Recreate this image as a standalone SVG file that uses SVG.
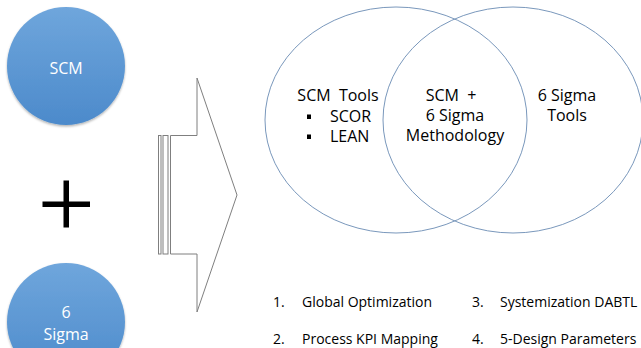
<svg xmlns="http://www.w3.org/2000/svg" width="641" height="348" viewBox="0 0 641 348">
<defs>
<linearGradient id="blue" x1="0" y1="0" x2="0" y2="1">
<stop offset="0" stop-color="#6fa6dc"/>
<stop offset="1" stop-color="#4c8acb"/>
</linearGradient>
<filter id="sh" x="-20%" y="-20%" width="140%" height="140%">
<feDropShadow dx="0" dy="1.5" stdDeviation="1.2" flood-color="#000" flood-opacity="0.3"/>
</filter>
</defs>
<style>
.node{fill:url(#blue);filter:url(#sh)}
.wt{font-family:"Open Sans","Noto Sans",sans-serif;font-size:16px;fill:#ffffff;text-anchor:middle}
.venn{fill:none;stroke:#7a98bc;stroke-width:1}
.vt{font-family:"Open Sans","Noto Sans",sans-serif;font-size:16px;fill:#000;white-space:pre}
.lt{font-family:"Open Sans","Noto Sans",sans-serif;font-size:14px;fill:#000}
.arr{fill:#fff;stroke:#7f7f7f;stroke-width:1}
</style>
<rect width="641" height="348" fill="#fff"/>
<g id="scm">
<circle class="node" cx="66" cy="66" r="59"/>
<text class="wt" x="66" y="74">SCM</text>
</g>
<g id="plus">
<rect x="42.5" y="201.5" width="47.5" height="5.5" fill="#000"/>
<rect x="63.5" y="180.5" width="5.5" height="47" fill="#000"/>
</g>
<g id="sigma">
<circle class="node" cx="66" cy="322" r="59"/>
<text class="wt" x="66" y="318">6</text>
<text class="wt" x="66" y="340">Sigma</text>
</g>
<g id="arrow">
<rect class="arr" x="158.5" y="135.5" width="2.5" height="118.5"/>
<rect class="arr" x="163" y="135.5" width="5" height="118.5"/>
<path class="arr" d="M170.5,135.5 H197 V78 L237,195 L197,312 V254 H170.5 Z"/>
</g>
<g id="venn-left">
<ellipse class="venn" cx="396" cy="120" rx="131" ry="113"/>
<text class="vt" x="338" y="101" text-anchor="middle" xml:space="preserve">SCM  Tools</text>
<rect x="307" y="114.5" width="4" height="4.5" fill="#000"/>
<text class="vt" x="330" y="122">SCOR</text>
<rect x="307" y="134.5" width="4" height="4.5" fill="#000"/>
<text class="vt" x="330" y="142">LEAN</text>
</g>
<g id="venn-right">
<ellipse class="venn" cx="513" cy="120" rx="130" ry="113"/>
<text class="vt" x="567" y="101" text-anchor="middle">6 Sigma</text>
<text class="vt" x="567" y="121" text-anchor="middle">Tools</text>
</g>
<g id="venn-center">
<text class="vt" x="451" y="101" text-anchor="middle" xml:space="preserve">SCM  +</text>
<text class="vt" x="455" y="121" text-anchor="middle">6 Sigma</text>
<text class="vt" x="455" y="141" text-anchor="middle">Methodology</text>
</g>
<g id="list">
<text class="lt" x="273" y="307">1.</text>
<text class="lt" x="302" y="307">Global Optimization</text>
<text class="lt" x="472" y="307">3.</text>
<text class="lt" x="500" y="307">Systemization DABTL</text>
<text class="lt" x="273" y="344">2.</text>
<text class="lt" x="302" y="344">Process KPI Mapping</text>
<text class="lt" x="472" y="344">4.</text>
<text class="lt" x="500" y="344">5-Design Parameters</text>
</g>
</svg>
